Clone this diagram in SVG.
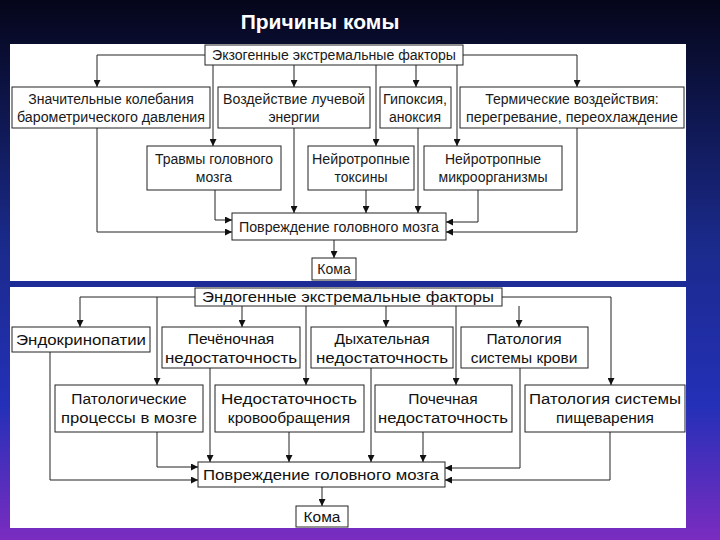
<svg xmlns="http://www.w3.org/2000/svg" width="720" height="540" viewBox="0 0 720 540">
<defs>
<linearGradient id="bg" x1="0" y1="0" x2="0" y2="1">
<stop offset="0" stop-color="#05061a"/><stop offset="0.45" stop-color="#1a2a8a"/><stop offset="0.75" stop-color="#2430b8"/><stop offset="1" stop-color="#7a2cc0"/>
</linearGradient>
<marker id="a" viewBox="0 0 10 10" refX="10" refY="5" markerWidth="7" markerHeight="7" orient="auto"><path d="M0,0L10,5L0,10z" fill="#111"/></marker>
</defs>
<style>
.b{fill:#fff;stroke:#222;stroke-width:1}
.t{font-family:"Liberation Sans",Arial,sans-serif;font-size:14px;fill:#1a1a1a;text-anchor:middle}
.u{font-size:15.5px;fill:#111}
.c path{fill:none;stroke:#222;stroke-width:1;marker-end:url(#a)}
</style>
<rect width="720" height="540" fill="url(#bg)"/>
<text x="320" y="29" font-family="Liberation Sans,Arial,sans-serif" font-size="21" font-weight="bold" fill="#fff" text-anchor="middle">Причины комы</text>
<rect x="10" y="44" width="676" height="237" fill="#fff"/>
<rect x="10" y="287" width="676" height="241" fill="#fff"/>

<g class="c">
<path d="M205,55H97V87"/><path d="M463,55H577V87"/>
<path d="M213,55V146"/><path d="M294,65V87"/><path d="M376,65V146"/><path d="M416,65V87"/><path d="M457,65V146"/>
<path d="M97,128V232H232"/><path d="M215,190V220H232"/><path d="M294,128V213"/><path d="M366,190V213"/><path d="M418,128V213"/><path d="M478,190V222H446"/><path d="M577,128V232H446"/>
<path d="M334,240V258"/>
<path d="M195,297H80V327"/><path d="M502,297H611V385"/>
<path d="M157,297V385"/><path d="M242,306V327"/><path d="M306,306V385"/><path d="M386,306V327"/><path d="M456,306V385"/><path d="M519,306V327"/>
<path d="M50,352V480H198"/><path d="M157,432V467H198"/><path d="M210,368V462"/><path d="M289,432V462"/><path d="M371,368V462"/><path d="M423,432V462"/><path d="M520,368V468H445"/><path d="M610,432V480H445"/>
<path d="M322,487V506"/>
</g>

<g id="exo"><rect class="b" x="205" y="45" width="258" height="20"/><text class="t" x="334" y="60" textLength="244" lengthAdjust="spacingAndGlyphs">Экзогенные экстремальные факторы</text></g>
<g id="baro"><rect class="b" x="12" y="87" width="198" height="41"/><text class="t" x="111" y="104">Значительные колебания</text><text class="t" x="111" y="122" textLength="188" lengthAdjust="spacingAndGlyphs">барометрического давления</text></g>
<g id="luch"><rect class="b" x="218" y="87" width="152" height="41"/><text class="t" x="294" y="104" textLength="142" lengthAdjust="spacingAndGlyphs">Воздействие лучевой</text><text class="t" x="294" y="122">энергии</text></g>
<g id="gipo"><rect class="b" x="380" y="87" width="71" height="41"/><text class="t" x="415" y="104" textLength="64" lengthAdjust="spacingAndGlyphs">Гипоксия,</text><text class="t" x="415" y="122">аноксия</text></g>
<g id="term"><rect class="b" x="460" y="87" width="224" height="41"/><text class="t" x="572" y="104">Термические воздействия:</text><text class="t" x="572" y="122" textLength="212" lengthAdjust="spacingAndGlyphs">перегревание, переохлаждение</text></g>
<g id="trav"><rect class="b" x="147" y="146" width="134" height="44"/><text class="t" x="214" y="164">Травмы головного</text><text class="t" x="214" y="182">мозга</text></g>
<g id="tox"><rect class="b" x="308" y="146" width="106" height="44"/><text class="t" x="361" y="164" textLength="98" lengthAdjust="spacingAndGlyphs">Нейротропные</text><text class="t" x="361" y="182">токсины</text></g>
<g id="micro"><rect class="b" x="424" y="146" width="138" height="44"/><text class="t" x="493" y="164">Нейротропные</text><text class="t" x="493" y="182">микроорганизмы</text></g>
<g id="dmg1"><rect class="b" x="232" y="213" width="214" height="27"/><text class="t" x="339" y="232" textLength="200" lengthAdjust="spacingAndGlyphs">Повреждение головного мозга</text></g>
<g id="koma1"><rect class="b" x="312" y="258" width="44" height="22"/><text class="t" x="334" y="274">Кома</text></g>

<g id="endo"><rect class="b" x="195" y="288" width="307" height="18"/><text class="t u" x="348" y="302" textLength="292" lengthAdjust="spacingAndGlyphs">Эндогенные экстремальные факторы</text></g>
<g id="endocr"><rect class="b" x="12" y="327" width="138" height="25"/><text class="t u" x="81" y="345" textLength="130" lengthAdjust="spacingAndGlyphs">Эндокринопатии</text></g>
<g id="pech"><rect class="b" x="162" y="327" width="138" height="41"/><text class="t u" x="231" y="344">Печёночная</text><text class="t u" x="231" y="363" textLength="132" lengthAdjust="spacingAndGlyphs">недостаточность</text></g>
<g id="dyh"><rect class="b" x="311" y="327" width="142" height="41"/><text class="t u" x="382" y="344">Дыхательная</text><text class="t u" x="382" y="363" textLength="132" lengthAdjust="spacingAndGlyphs">недостаточность</text></g>
<g id="krov"><rect class="b" x="461" y="327" width="127" height="41"/><text class="t u" x="524" y="344">Патология</text><text class="t u" x="524" y="363">системы крови</text></g>
<g id="patmozg"><rect class="b" x="55" y="385" width="148" height="47"/><text class="t u" x="129" y="404">Патологические</text><text class="t u" x="129" y="423" textLength="136" lengthAdjust="spacingAndGlyphs">процессы в мозге</text></g>
<g id="krovoobr"><rect class="b" x="215" y="385" width="149" height="47"/><text class="t u" x="289" y="404" textLength="136" lengthAdjust="spacingAndGlyphs">Недостаточность</text><text class="t u" x="289" y="423">кровообращения</text></g>
<g id="poch"><rect class="b" x="375" y="385" width="137" height="47"/><text class="t u" x="443" y="404">Почечная</text><text class="t u" x="443" y="423" textLength="130" lengthAdjust="spacingAndGlyphs">недостаточность</text></g>
<g id="pishch"><rect class="b" x="525" y="385" width="160" height="47"/><text class="t u" x="605" y="404" textLength="152" lengthAdjust="spacingAndGlyphs">Патология системы</text><text class="t u" x="605" y="423">пищеварения</text></g>
<g id="dmg2"><rect class="b" x="198" y="462" width="247" height="25"/><text class="t u" x="321" y="480" textLength="236" lengthAdjust="spacingAndGlyphs">Повреждение головного мозга</text></g>
<g id="koma2"><rect class="b" x="296" y="506" width="52" height="21"/><text class="t u" x="322" y="522">Кома</text></g>
</svg>
